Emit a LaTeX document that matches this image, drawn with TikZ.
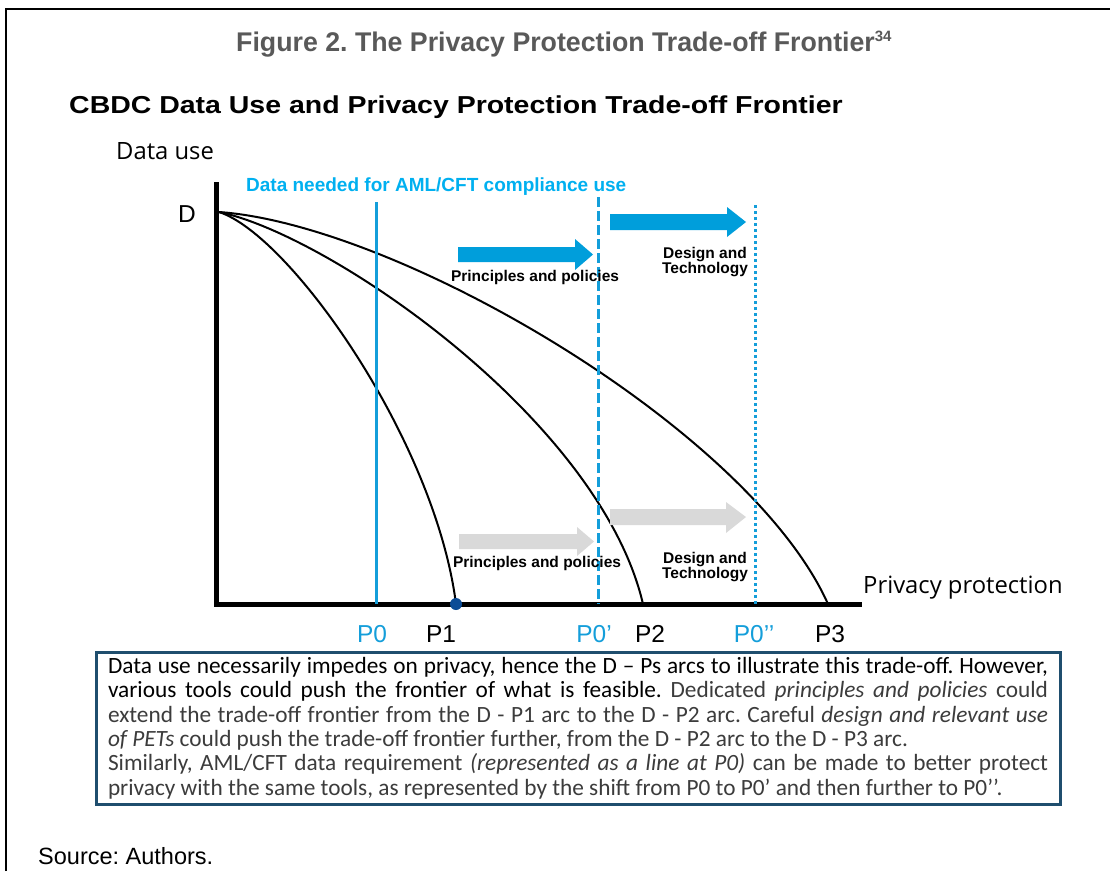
\documentclass[tikz,border=0pt]{standalone}
\usepackage{fontspec}
\setmainfont{Liberation Sans}
\newfontfamily\segfont{Open Sans}
\newfontfamily\calfont{Carlito}
\usepackage{graphicx}
\definecolor{titlegray}{RGB}{89,89,89}
\definecolor{amlcyan}{RGB}{0,176,240}
\definecolor{lineblue}{RGB}{20,158,218}
\definecolor{arrowblue}{RGB}{0,158,219}
\definecolor{arrowgray}{RGB}{217,217,217}
\definecolor{dotblue}{RGB}{12,76,150}
\definecolor{boxcol}{RGB}{31,78,110}
\definecolor{bodygray}{RGB}{60,60,60}
\tikzset{
  axis/.style={line width=5pt, line join=miter},
  frontier/.style={line width=2pt},
  pline/.style={line width=3pt, lineblue},
  pdashed/.style={pline, dash pattern=on 10pt off 4pt},
  pdotted/.style={pline, dash pattern=on 3pt off 3pt},
  plabel/.style={font=\fontsize{24.5}{26}\selectfont, inner sep=0, anchor=base},
  bluelabel/.style={plabel, text=lineblue},
  axlabel/.style={font=\segfont\fontsize{23.8}{25}\selectfont, inner sep=0, anchor=base west},
  arrowtext/.style={font=\bfseries\fontsize{15.5}{15.5}\selectfont, inner sep=0, align=center},
  bluearrow/.style={fill=arrowblue},
  grayarrow/.style={fill=arrowgray},
  textbox/.style={draw=boxcol, line width=3pt, minimum width=964pt, minimum height=152pt, inner xsep=12pt, inner ysep=0pt, align=left, font=\calfont\fontsize{23.3}{24.4}\selectfont},
}
\begin{document}
\frenchspacing
\begin{tikzpicture}[x=1pt,y=-1pt]
\useasboundingbox (0,0) rectangle (1110,871);
\fill[white] (0,0) rectangle (1110,871);
\draw[line width=1.5pt] (6,871) -- (6,9) -- (1110,9);

% titles
\node[anchor=base west, inner sep=0, text=titlegray, font=\bfseries\fontsize{27}{30}\selectfont] (title) at (236,51)
  {\scalebox{0.99}[1]{Figure 2. The Privacy Protection Trade-off Frontier}\raisebox{10pt}{\fontsize{15}{15}\selectfont 34}};
\node[anchor=base west, inner sep=0, font=\bfseries\fontsize{24.5}{28}\selectfont] (subtitle) at (69,113)
  {\scalebox{1.162}[1]{CBDC Data Use and Privacy Protection Trade-off Frontier}};

% axes
\coordinate (ytop) at (216,182);
\coordinate (orig) at (216,604);
\coordinate (xend) at (862,604);
\draw[axis] (ytop) -- (orig) -- (xend);
\node[axlabel] (ylab) at (116,159) {Data use};
\node[axlabel] (xlab) at (863,593) {Privacy protection};

% points
\coordinate (D) at (219,212);
\coordinate (P1) at (456,604);
\coordinate (P2) at (643,604);
\coordinate (P3) at (828,604);
\node[plabel, anchor=base east] (Dlab) at (196,222) {D};

% frontier arcs
\draw[frontier] (D) .. controls (290,235) and (435,440) .. (P1);
\draw[frontier] (D) .. controls (330,235) and (600,420) .. (P2);
\draw[frontier] (D) .. controls (400,225) and (750,430) .. (P3);

% AML/CFT lines
\coordinate (p0top) at (376,202);  \coordinate (p0bot) at (376,604);
\coordinate (p1top) at (598,197);  \coordinate (p1bot) at (598,604);
\coordinate (p2top) at (755,205);  \coordinate (p2bot) at (755,604);
\draw[pline] (p0top) -- (p0bot);
\draw[pdashed] (p1top) -- (p1bot);
\draw[pdotted] (p2top) -- (p2bot);
\node[anchor=base west, inner sep=0, text=amlcyan, font=\bfseries\fontsize{19}{20}\selectfont] (aml) at (246,191)
  {Data needed for AML/CFT compliance use};

\fill[dotblue] (P1) circle (6pt);

% axis labels
\node[bluelabel] (lP0) at (372,642) {P0};
\node[plabel] (lP1) at (441,642) {P1};
\node[bluelabel] (lP0a) at (594,642) {P0’};
\node[plabel] (lP2) at (650,642) {P2};
\node[bluelabel] (lP0b) at (754,642) {P0’’};
\node[plabel] (lP3) at (830,642) {P3};

% arrows (upper, blue)
\fill[bluearrow] (458,247) -- (575,247) -- (575,239) -- (593,254.5) -- (575,270) -- (575,262) -- (458,262) -- cycle;
\fill[bluearrow] (610,214) -- (727,214) -- (727,207) -- (746,222) -- (727,237) -- (727,230) -- (610,230) -- cycle;
% arrows (lower, gray)
\fill[grayarrow] (459,534) -- (577,534) -- (577,527) -- (594,541.5) -- (577,556) -- (577,549) -- (459,549) -- cycle;
\fill[grayarrow] (610,509) -- (726,509) -- (726,502) -- (746,517) -- (726,533) -- (726,525) -- (610,525) -- cycle;

\node[arrowtext] (pp1) at (535,277) {Principles and policies};
\node[arrowtext] (dt1) at (705,262) {Design and\\Technology};
\node[arrowtext] (pp2) at (537,563) {Principles and policies};
\node[arrowtext] (dt2) at (705,567) {Design and\\Technology};

% explanation box
\node[textbox] (box) at (578,728) {%
\makebox[940pt][s]{Data use necessarily impedes on privacy, hence the D – Ps arcs to illustrate this trade-off. However,}\\
\makebox[940pt][s]{various tools could push the frontier of what is feasible. \color{bodygray}Dedicated \textit{principles and policies} could}\\
\makebox[940pt][s]{\color{bodygray}extend the trade-off frontier from the D - P1 arc to the D - P2 arc. Careful \textit{design and relevant use}}\\
\makebox[940pt][l]{\color{bodygray}\textit{of PETs} could push the trade-off frontier further, from the D - P2 arc to the D - P3 arc.}\\
\makebox[940pt][s]{\color{bodygray}Similarly, AML/CFT data requirement \textit{(represented as a line at P0)} can be made to better protect}\\
\makebox[940pt][l]{\color{bodygray}privacy with the same tools, as represented by the shift from P0 to P0’ and then further to P0’’.}};

\node[anchor=base west, inner sep=0, font=\fontsize{23.5}{26}\selectfont] (source) at (38,864) {Source: Authors.};
\end{tikzpicture}
\end{document}
